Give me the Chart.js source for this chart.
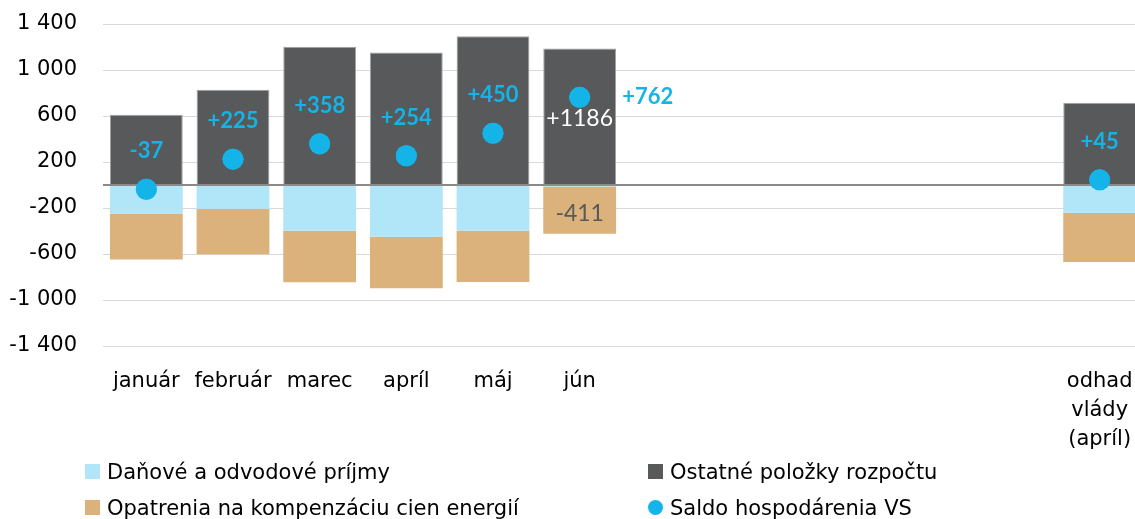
<!DOCTYPE html>
<html lang="sk">
<head>
<meta charset="utf-8">
<title>Saldo hospodárenia VS</title>
<script src="https://cdn.jsdelivr.net/npm/chart.js@4.4.1/dist/chart.umd.min.js"></script>
<style>
  html, body { margin: 0; padding: 0; background: #fff; overflow: hidden; }
  #wrap { position: relative; width: 1143px; height: 519px; }
  .leg { position: absolute; font: 21px "DejaVu Sans", sans-serif; color: #000; line-height: 24px; white-space: nowrap; }
  .leg i { position: absolute; left: -22px; top: 4px; width: 15px; height: 15px; }
</style>
</head>
<body>
<div id="wrap">
  <canvas id="saldoChart" width="1143" height="519"></canvas>
  <div class="leg" style="left:107px; top:460px"><i style="background:#b0e6f7"></i>Daňové a odvodové príjmy</div>
  <div class="leg" style="left:107px; top:496px"><i style="background:#dbb27b"></i>Opatrenia na kompenzáciu cien energií</div>
  <div class="leg" style="left:670px; top:460px"><i style="background:#58595b"></i>Ostatné položky rozpočtu</div>
  <div class="leg" style="left:670px; top:496px"><i style="background:#14b4e8; border-radius:50%"></i>Saldo hospodárenia VS</div>
</div>
<script>
// Data (mil. eur)
const categories = ['január', 'február', 'marec', 'apríl', 'máj', 'jún', '', '', '', '', '', ['odhad', 'vlády', '(apríl)']];
const dane     = [-247, -207, -397, -450, -397,  -13, null, null, null, null, null, -241];
const energie  = [-400, -396, -448, -448, -446, -411, null, null, null, null, null, -429];
const ostatne  = [ 610,  828, 1203, 1152, 1293, 1186, null, null, null, null, null,  715];
const saldo    = [ -37,  225,  358,  254,  450,  762, null, null, null, null, null,   45];
const yTicks   = [-1400, -1000, -600, -200, 0, 200, 600, 1000, 1400];

const modra = '#14b4e8';
const detailIdx = categories.indexOf('jún'); // posledny mesiac ma popisy aj pri stlpcoch

function fmt(v) {
  const a = Math.abs(v);
  const s = a >= 1000 ? Math.floor(a / 1000) + ' ' + String(a % 1000).padStart(3, '0') : String(a);
  return (v < 0 ? '-' : '') + s;
}
function znak(v) { return (v > 0 ? '+' : '') + v; }

// nulova ciara nad stlpcami + popisy hodnot
const popisy = {
  id: 'popisy',
  afterDatasetsDraw(chart) {
    const ctx = chart.ctx;
    const y = chart.scales.y;
    const area = chart.chartArea;
    const y0 = y.getPixelForValue(0);
    ctx.save();
    ctx.strokeStyle = '#8a8a8a';
    ctx.lineWidth = 2;
    ctx.beginPath();
    ctx.moveTo(area.left, y0);
    ctx.lineTo(area.right, y0);
    ctx.stroke();

    // saldo body znova navrch
    const bodyMeta = chart.getDatasetMeta(3);
    bodyMeta.data.forEach(p => p.draw(ctx));

    ctx.textAlign = 'center';
    ctx.textBaseline = 'middle';
    bodyMeta.data.forEach((p, i) => {
      if (saldo[i] == null) return;
      ctx.font = 'bold 22px Lato, sans-serif';
      ctx.fillStyle = modra;
      if (i === detailIdx) {
        ctx.fillText(znak(saldo[i]), p.x + 68, p.y);
      } else {
        ctx.fillText(znak(saldo[i]), p.x, p.y - 38);
      }
    });

    if (detailIdx >= 0) {
      const p = bodyMeta.data[detailIdx];
      ctx.font = '23px Lato, sans-serif';
      ctx.fillStyle = '#ffffff';
      ctx.fillText(znak(ostatne[detailIdx]), p.x, p.y + 21);
      const tan = chart.getDatasetMeta(1).data[detailIdx];
      ctx.fillStyle = '#595959';
      ctx.fillText(String(energie[detailIdx]), tan.x, (tan.y + tan.base) / 2 + 3);
    }
    ctx.restore();
  }
};

const chart = new Chart(document.getElementById('saldoChart'), {
  data: {
    labels: categories,
    datasets: [
      { type: 'bar', label: 'Daňové a odvodové príjmy', data: dane, backgroundColor: '#b0e6f7', stack: 'vs', order: 1 },
      { type: 'bar', label: 'Opatrenia na kompenzáciu cien energií', data: energie, backgroundColor: '#dbb27b', stack: 'vs', order: 1 },
      { type: 'bar', label: 'Ostatné položky rozpočtu', data: ostatne, backgroundColor: '#58595b',
        borderColor: '#a0a0a0', borderWidth: 1, stack: 'vs', order: 1 },
      { type: 'line', label: 'Saldo hospodárenia VS', data: saldo, showLine: false, stack: 'saldo',
        pointRadius: 10.5, pointHoverRadius: 10.5, pointBackgroundColor: modra, pointBorderWidth: 0, order: 0 }
    ]
  },
  options: {
    responsive: false,
    animation: false,
    datasets: { bar: { categoryPercentage: 1, barPercentage: 0.84 } },
    layout: { autoPadding: false, padding: { top: 24, left: 0, right: 0, bottom: 0 } },
    plugins: {
      legend: { display: false },
      tooltip: { enabled: false }
    },
    scales: {
      x: {
        stacked: true,
        grid: { display: false, drawTicks: false },
        border: { display: false },
        ticks: {
          padding: 21,
          maxRotation: 0,
          autoSkip: false,
          color: '#000',
          font: { family: 'DejaVu Sans', size: 21, lineHeight: '29px' }
        },
        afterFit: s => { s.height = 173; s.paddingLeft = 0; s.paddingRight = 0; }
      },
      y: {
        stacked: true,
        min: -1400,
        max: 1400,
        afterBuildTicks: s => { s.ticks = yTicks.map(v => ({ value: v })); },
        grid: { color: '#d9d9d9', lineWidth: 1, drawTicks: false },
        border: { display: false },
        ticks: {
          padding: 26,
          color: '#000',
          font: { family: 'DejaVu Sans', size: 21 },
          callback: v => (v === 0 ? '' : fmt(v))
        },
        afterFit: s => { s.width = 103; s.paddingTop = 0; s.paddingBottom = 0; }
      }
    }
  },
  plugins: [popisy]
});
</script>
</body>
</html>
